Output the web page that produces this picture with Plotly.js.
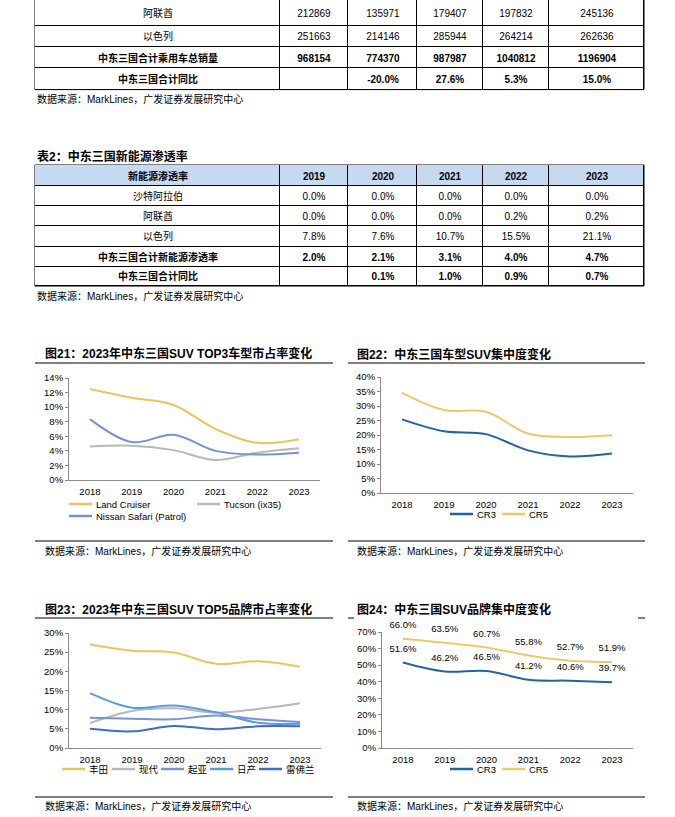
<!DOCTYPE html>
<html><head><meta charset="utf-8">
<script src="https://cdn.plot.ly/plotly-3.0.1.min.js"></script>
<style>
body{margin:0;background:#fff;}
</style>
</head><body>
<div id="main"></div>
<script>
// ---------------- DATA ----------------
// Table 1 (partial, top of page)
const t1RowNames = ['阿联酋', '以色列', '中东三国合计乘用车总销量', '中东三国合计同比'];
const t1UAE   = ['212869', '135971', '179407', '197832', '245136'];
const t1ISR   = ['251663', '214146', '285944', '264214', '262636'];
const t1Total = ['968154', '774370', '987987', '1040812', '1196904'];
const t1YoY   = ['', '-20.0%', '27.6%', '5.3%', '15.0%'];
const t1BoldRows = [false, false, true, true];

// Table 2
const t2Title = '表2：中东三国新能源渗透率';
const t2HeaderLabel = '新能源渗透率';
const t2Years = ['2019', '2020', '2021', '2022', '2023'];
const t2RowNames = ['沙特阿拉伯', '阿联酋', '以色列', '中东三国合计新能源渗透率', '中东三国合计同比'];
const t2KSA   = ['0.0%', '0.0%', '0.0%', '0.0%', '0.0%'];
const t2UAE   = ['0.0%', '0.0%', '0.0%', '0.2%', '0.2%'];
const t2ISR   = ['7.8%', '7.6%', '10.7%', '15.5%', '21.1%'];
const t2Total = ['2.0%', '2.1%', '3.1%', '4.0%', '4.7%'];
const t2YoY   = ['', '0.1%', '1.0%', '0.9%', '0.7%'];
const t2BoldRows = [false, false, false, true, true];

const sourceText = '数据来源：MarkLines，广发证券发展研究中心';

// Charts
const years = ['2018', '2019', '2020', '2021', '2022', '2023'];

const c21Title = '图21：2023年中东三国SUV TOP3车型市占率变化';
const c21Names = ['Land Cruiser', 'Tucson (ix35)', 'Nissan Safari (Patrol)'];
const c21LandCruiser = [12.5, 11.3, 10.3, 7.0, 5.1, 5.6];
const c21Tucson      = [4.6, 4.7, 4.1, 2.75, 3.75, 4.35];
const c21Nissan      = [8.35, 5.2, 6.2, 4.0, 3.5, 3.75];

const c22Title = '图22：中东三国车型SUV集中度变化';
const c22Names = ['CR3', 'CR5'];
const c22CR3 = [25.4, 21.3, 20.3, 14.7, 12.6, 13.6];
const c22CR5 = [34.5, 28.6, 28.0, 20.5, 19.3, 19.9];

const c23Title = '图23：2023年中东三国SUV TOP5品牌市占率变化';
const c23Names = ['丰田', '现代', '起亚', '日产', '雷佛兰'];
const c23Toyota    = [27.0, 25.4, 24.9, 22.0, 22.6, 21.2];
const c23Hyundai   = [6.5, 9.65, 10.35, 9.2, 10.2, 11.7];
const c23Kia       = [7.9, 7.65, 7.5, 8.5, 7.5, 6.8];
const c23Nissan    = [14.3, 10.5, 11.1, 9.3, 6.6, 6.3];
const c23Chevrolet = [5.0, 4.35, 5.75, 4.9, 5.65, 5.65];

const c24Title = '图24：中东三国SUV品牌集中度变化';
const c24Names = ['CR3', 'CR5'];
const c24CR3 = [51.6, 46.2, 46.5, 41.2, 40.6, 39.7];
const c24CR5 = [66.0, 63.5, 60.7, 55.8, 52.7, 51.9];

// ---------------- STYLE / LAYOUT CONSTANTS ----------------
const FONT = 'Liberation Sans, Arial, Noto Sans CJK SC, sans-serif';
const YELLOW = '#E6C65E', GRAY = '#B8B8B8', PERI = '#7593D2', LBLUE = '#5B9BE0', DBLUE = '#3F6CC4', NAVY = '#2262A6', CR5Y = '#E8CB6B';
const HEAD_FILL = '#C5D9F1';
const W = 675, H = 817;
const X = x => x / W, Y = y => 1 - y / H;
const TBL_LEFT = 35, TBL_RIGHT = 644;
const colW = [245, 68, 69, 66, 66, 95];          // column widths (px)
const t1RowH = [25.7, 21.3, 21.3, 21.3];          // table 1 row heights (px)
const t1Top = 0;
const t2RowH = [21, 20, 20, 20.5, 20, 19.5];      // table 2 row heights (px)
const t2Top = 165;

// ---------------- TABLES (heatmap grid) ----------------
const traces = [];
const shapes = [], annotations = [];
const cum = arr => arr.reduce((a, v) => { a.push(a[a.length - 1] + v); return a; }, [0]);
const b = (v, bold) => bold ? '<b>' + v + '</b>' : v;

function tableTrace(xa, ya, rows, bolds, fills) {
  traces.push({
    type: 'heatmap', xaxis: xa, yaxis: ya,
    x: cum(colW), y: null, z: fills, zmin: 0, zmax: 1,
    colorscale: [[0, '#ffffff'], [1, HEAD_FILL]], showscale: false,
    text: rows.map((r, i) => r.map(v => b(v, bolds[i]))),
    texttemplate: '%{text}', textfont: {family: FONT, size: 10, color: '#000'},
    xgap: 1, ygap: 1, hoverinfo: 'skip'
  });
  return traces[traces.length - 1];
}
const t1Rows = [[t1RowNames[0]].concat(t1UAE), [t1RowNames[1]].concat(t1ISR),
  [t1RowNames[2]].concat(t1Total), [t1RowNames[3]].concat(t1YoY)];
const tr1 = tableTrace('x5', 'y5', t1Rows, t1BoldRows, t1Rows.map(r => r.map(() => 0)));
tr1.y = cum(t1RowH);

const t2Rows = [[t2HeaderLabel].concat(t2Years), [t2RowNames[0]].concat(t2KSA), [t2RowNames[1]].concat(t2UAE),
  [t2RowNames[2]].concat(t2ISR), [t2RowNames[3]].concat(t2Total), [t2RowNames[4]].concat(t2YoY)];
const tr2 = tableTrace('x6', 'y6', t2Rows, [true].concat(t2BoldRows), t2Rows.map((r, i) => r.map(() => i === 0 ? 1 : 0)));
tr2.y = cum(t2RowH);

const t1H = cum(t1RowH).pop(), t2H = cum(t2RowH).pop();
// black backing => 1px grid lines through the heatmap gaps
shapes.push({type: 'rect', xref: 'paper', yref: 'paper', layer: 'below',
  x0: X(TBL_LEFT), x1: X(TBL_RIGHT), y0: Y(t1Top + t1H), y1: Y(t1Top),
  fillcolor: '#000', line: {color: '#000', width: 1}});
shapes.push({type: 'rect', xref: 'paper', yref: 'paper', layer: 'below',
  x0: X(TBL_LEFT), x1: X(TBL_RIGHT), y0: Y(t2Top + t2H), y1: Y(t2Top),
  fillcolor: '#000', line: {color: '#000', width: 1}});

// ---------------- CHARTS ----------------
function line(xa, ya, y, color, text) {
  const t = {type: 'scatter', mode: 'lines', x: years, y: y, xaxis: xa, yaxis: ya,
    line: {color: color, width: 2, shape: 'spline', smoothing: 1},
    showlegend: false, hoverinfo: 'skip', cliponaxis: false};
  if (text) {
    t.mode = 'lines+markers+text';
    t.text = y.map(v => v.toFixed(1) + '%');
    t.textposition = 'top center';
    t.textfont = {family: FONT, size: 9.5, color: '#000'};
    t.marker = {size: 12, opacity: 0};
  }
  traces.push(t);
}
line('x', 'y', c21LandCruiser, YELLOW);
line('x', 'y', c21Tucson, GRAY);
line('x', 'y', c21Nissan, PERI);
line('x2', 'y2', c22CR3, NAVY);
line('x2', 'y2', c22CR5, CR5Y);
line('x3', 'y3', c23Toyota, YELLOW);
line('x3', 'y3', c23Hyundai, GRAY);
line('x3', 'y3', c23Kia, PERI);
line('x3', 'y3', c23Nissan, LBLUE);
line('x3', 'y3', c23Chevrolet, DBLUE);
line('x4', 'y4', c24CR3, NAVY, true);
line('x4', 'y4', c24CR5, CR5Y, true);

const AX = '#8C8C8C';
function xa(l, r, anchor) {
  return {domain: [X(l), X(r)], anchor: anchor, type: 'category', range: [-0.5, 5.5],
    showline: true, linecolor: AX, linewidth: 1, ticks: '', showgrid: false, zeroline: false,
    tickfont: {family: FONT, size: 9.5, color: '#000'}, fixedrange: true, ticklabelstandoff: 3};
}
function ya(bot, top, max, dt, anchor) {
  return {domain: [Y(bot), Y(top)], anchor: anchor, range: [0, max], dtick: dt, tick0: 0, ticksuffix: '%',
    showline: true, linecolor: AX, linewidth: 1, ticks: 'outside', ticklen: 3, tickcolor: AX,
    showgrid: false, zeroline: false, tickfont: {family: FONT, size: 9.5, color: '#000'}, fixedrange: true};
}
function hiddenX(anchor) {
  return {domain: [X(TBL_LEFT), X(TBL_RIGHT)], anchor: anchor, range: [0, cum(colW).pop()], visible: false, fixedrange: true};
}
function hiddenY(top, h, anchor) {
  return {domain: [Y(top + h), Y(top)], anchor: anchor, range: [h, 0], visible: false, fixedrange: true};
}

function hline(x0, x1, y, color, width) {
  shapes.push({type: 'line', xref: 'paper', yref: 'paper', x0: X(x0), x1: X(x1), y0: Y(y), y1: Y(y),
    line: {color: color, width: width}});
}
function label(text, x, y, size, bold) {
  annotations.push({text: bold ? '<b>' + text + '</b>' : text, xref: 'paper', yref: 'paper',
    x: X(x), y: Y(y), xanchor: 'left', yanchor: 'middle', showarrow: false,
    font: {family: FONT, size: size, color: '#000'}});
}
function legend(names, colors, xs, ys) {
  names.forEach((n, i) => {
    hline(xs[i], xs[i] + 23, ys[i], colors[i], 2.5);
    label(n, xs[i] + 25, ys[i], 9.5, false);
  });
}

// page texts
label(sourceText, 35, 99, 10);
label(t2Title, 35, 157, 12, true);
label(sourceText, 35, 296, 10);

// chart 21
label(c21Title, 43, 353, 12, true);
hline(35, 333, 363, '#000', 1); hline(35, 333, 541, '#000', 1);
label(sourceText, 43, 551, 10);
legend(c21Names, [YELLOW, GRAY, PERI], [69, 197, 69], [504, 504, 516]);
// chart 22
label(c22Title, 355, 354, 12, true);
hline(348, 645, 363, '#000', 1); hline(348, 645, 541, '#000', 1);
label(sourceText, 355, 551, 10);
legend(c22Names, [NAVY, CR5Y], [450, 502], [514, 514]);
// chart 23
label(c23Title, 43, 609, 12, true);
hline(35, 333, 618, '#000', 1); hline(35, 333, 797, '#000', 1);
label(sourceText, 43, 806, 10);
legend(c23Names, [YELLOW, GRAY, PERI, LBLUE, DBLUE], [62, 112, 161, 210, 259], [769, 769, 769, 769, 769]);
// chart 24
label(c24Title, 355, 609, 12, true);
hline(348, 354, 618, '#000', 1); hline(638, 645, 618, '#000', 1); hline(348, 645, 797, '#000', 1);
label(sourceText, 355, 806, 10);
legend(c24Names, [NAVY, CR5Y], [450, 502], [769, 769]);

const layout = {
  width: W, height: H, margin: {l: 0, r: 0, t: 0, b: 0},
  paper_bgcolor: '#fff', plot_bgcolor: 'rgba(0,0,0,0)',
  showlegend: false,
  font: {family: FONT, size: 10, color: '#000'},
  xaxis: xa(69, 320, 'y'), yaxis: ya(480, 378, 14, 2, 'x'),
  xaxis2: xa(381, 633, 'y2'), yaxis2: ya(493, 377, 40, 5, 'x2'),
  xaxis3: xa(69, 321, 'y3'), yaxis3: ya(748, 633, 30, 5, 'x3'),
  xaxis4: xa(382, 633, 'y4'), yaxis4: ya(748, 632, 70, 10, 'x4'),
  xaxis5: hiddenX('y5'), yaxis5: hiddenY(t1Top, t1H, 'x5'),
  xaxis6: hiddenX('y6'), yaxis6: hiddenY(t2Top, t2H, 'x6'),
  shapes: shapes, annotations: annotations
};
Plotly.newPlot('main', traces, layout, {staticPlot: true, displayModeBar: false});
</script>
</body></html>
